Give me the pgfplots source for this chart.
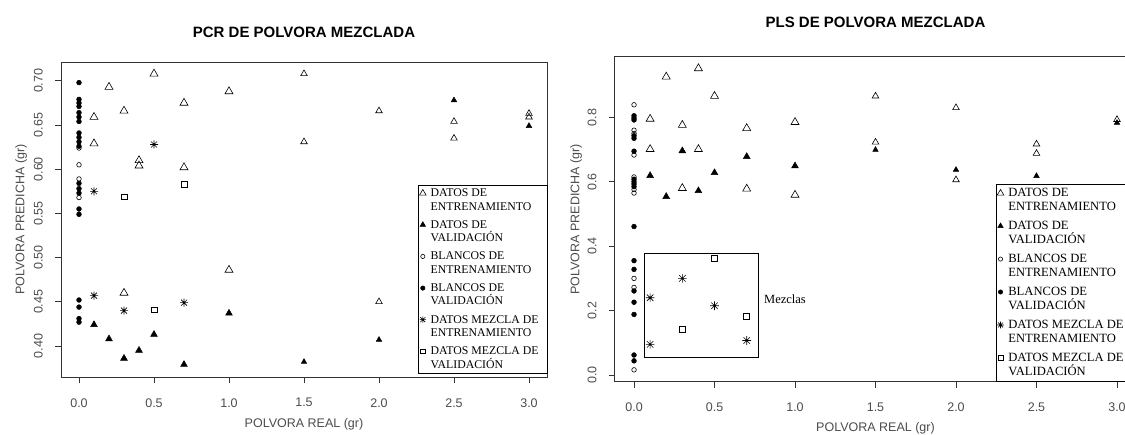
\documentclass[border=0pt]{standalone}
\usepackage{pgfplots}
\pgfplotsset{compat=1.18}
\usepackage{fontspec}
\setmainfont{Liberation Serif}
\newfontfamily\arialf{Liberation Sans}

\pgfdeclareplotmark{rstar}{%
 \pgfpathmoveto{\pgfqpoint{-\pgfplotmarksize}{0pt}}\pgfpathlineto{\pgfqpoint{\pgfplotmarksize}{0pt}}%
 \pgfpathmoveto{\pgfqpoint{0pt}{-\pgfplotmarksize}}\pgfpathlineto{\pgfqpoint{0pt}{\pgfplotmarksize}}%
 \pgfpathmoveto{\pgfqpoint{-0.75\pgfplotmarksize}{-0.75\pgfplotmarksize}}\pgfpathlineto{\pgfqpoint{0.75\pgfplotmarksize}{0.75\pgfplotmarksize}}%
 \pgfpathmoveto{\pgfqpoint{-0.75\pgfplotmarksize}{0.75\pgfplotmarksize}}\pgfpathlineto{\pgfqpoint{0.75\pgfplotmarksize}{-0.75\pgfplotmarksize}}%
 \pgfusepathqstroke}

\pgfplotsset{
 legmy/.initial=16.8pt,
 limg/.style={legend image code/.code={\draw[##1] plot coordinates {(0pt,\pgfkeysvalueof{/pgfplots/legmy})};}},
 tri/.style={only marks, mark=triangle, mark options={draw=black, fill=none, line width=0.6pt}, limg},
 trf/.style={only marks, mark=triangle*, mark options={draw=black, fill=black, line width=0.5pt}, limg},
 cio/.style={only marks, mark=o, mark size=2.3pt, mark options={draw=black, fill=none, line width=0.6pt}, limg, legend image post style={mark size=2.1pt}},
 cif/.style={only marks, mark=*, mark size=2.4pt, mark options={draw=black, fill=black, line width=0.5pt}, limg, legend image post style={mark size=2.2pt}},
 stm/.style={only marks, mark=rstar, mark options={draw=black, line width=0.6pt}, limg},
 sqm/.style={only marks, mark=square, mark size=2.8pt, mark options={draw=black, fill=none, line width=0.6pt}, limg, legend image post style={mark size=2.4pt}},
 common/.style={
  scale only axis, tick align=outside, major tick length=6pt, tick pos=left,
  axis line style={black!80, line width=0.8pt},
  every tick/.style={black!80, line width=0.8pt},
  tick label style={font=\arialf\fontsize{12.5}{14}\selectfont, text=black!70},
  /pgf/number format/assume math mode=true,
  xmin=-0.12, xmax=3.12,
  xtick={0,0.5,1,1.5,2,2.5,3}, xticklabels={0.0,0.5,1.0,1.5,2.0,2.5,3.0},
  xticklabel style={anchor=north, inner sep=0pt},
  yticklabel style={rotate=90, anchor=south, inner sep=0pt},
  xticklabel shift=15pt, yticklabel shift=12pt,
  label style={font=\arialf\fontsize{12.5}{14}\selectfont, text=black!70},
  xlabel={POLVORA REAL (gr)}, ylabel={POLVORA PREDICHA (gr)},
  xlabel style={anchor=base}, ylabel style={anchor=base},
  title style={font=\arialf\bfseries\fontsize{15}{15}\selectfont, anchor=base},
  legend cell align=left,
  legend style={draw=black, line width=0.6pt, fill=white, anchor=north west,
    font=\fontsize{11.8}{13.3}\selectfont, inner xsep=1.2pt, inner ysep=4pt,
    row sep=9.0pt, column sep=4.5pt, cells={anchor=base west},
    nodes={inner sep=0pt, align=left}},
 }
}

\begin{document}
\begin{tikzpicture}[x=1pt,y=1pt]
%================ LEFT: PCR =================
\begin{axis}[common, at={(61pt,57.9pt)}, anchor=south west, width=486pt, height=315pt,
  ymin=0.3648, ymax=0.7212,
  ytick={0.40,0.45,0.50,0.55,0.60,0.65,0.70},
  yticklabels={0.40,0.45,0.50,0.55,0.60,0.65,0.70},
  title={PCR DE POLVORA MEZCLADA},
  title style={at={(axis description cs:0.5,1.060)}},
  xlabel style={at={(axis description cs:0.5,-0.16)}},
  ylabel style={at={(axis description cs:-0.0751,0.5)}},
  legend style={at={(axis description cs:0.7346,0.611)}}]
\addplot[tri, mark size=4.6pt, legend image post style={mark size=3.8pt}] coordinates {
 (0.1,0.659) (0.1,0.629) (0.2,0.693) (0.3,0.666) (0.3,0.460) (0.4,0.610) (0.4,0.604)
 (0.5,0.708) (0.7,0.675) (0.7,0.602) (1.0,0.688) (1.0,0.486)};
\addlegendentry{\makebox[115pt][l]{DATOS DE}\\ENTRENAMIENTO}
\addplot[tri, mark size=3.8pt, forget plot] coordinates {
 (1.5,0.708) (1.5,0.631) (2.0,0.666) (2.0,0.450) (2.5,0.654) (2.5,0.635) (3.0,0.663) (3.0,0.659)};
\addplot[trf, mark size=3.9pt, legend image post style={mark size=3.2pt}] coordinates {
 (0.1,0.424) (0.2,0.408) (0.3,0.386) (0.4,0.395) (0.5,0.413) (0.7,0.379) (1.0,0.437)};
\addlegendentry{DATOS DE\\VALIDACIÓN}
\addplot[trf, mark size=3.2pt, forget plot] coordinates {
 (1.5,0.382) (2.0,0.407) (2.5,0.678) (3.0,0.649)};
\addplot[cio] coordinates {(0,0.624) (0,0.605) (0,0.589) (0,0.568)};
\addlegendentry{BLANCOS DE\\ENTRENAMIENTO}
\addplot[cif] coordinates {
 (0,0.698) (0,0.679) (0,0.675) (0,0.671) (0,0.664) (0,0.659) (0,0.654)
 (0,0.641) (0,0.636) (0,0.631) (0,0.626) (0,0.584) (0,0.578) (0,0.573)
 (0,0.555) (0,0.549) (0,0.452) (0,0.444) (0,0.431) (0,0.427)};
\addlegendentry{BLANCOS DE\\VALIDACIÓN}
\addplot[stm, mark size=4pt, legend image post style={mark size=3.3pt}] coordinates {
 (0.1,0.575) (0.5,0.628) (0.1,0.457) (0.3,0.440) (0.7,0.449)};
\addlegendentry{DATOS MEZCLA DE\\ENTRENAMIENTO}
\addplot[sqm] coordinates {(0.3,0.569) (0.7,0.583) (0.5,0.441)};
\addlegendentry{DATOS MEZCLA DE\\VALIDACIÓN}
\end{axis}
%================ RIGHT: PLS =================
\begin{axis}[common, at={(614.7pt,53.1pt)}, anchor=south west, width=521.6pt, height=325.4pt,
  ymin=-0.0214, ymax=0.989,
  ytick={0,0.2,0.4,0.6,0.8}, yticklabels={0.0,0.2,0.4,0.6,0.8},
  title={PLS DE POLVORA MEZCLADA},
  title style={at={(axis description cs:0.5,1.0706)}},
  xlabel style={at={(axis description cs:0.5,-0.1515)}},
  ylabel style={at={(axis description cs:-0.0675,0.5)}},
  legmy=17.5pt,
  legend style={at={(axis description cs:0.7305,0.608)}, row sep=9.1pt,
    font=\fontsize{12.6}{14}\selectfont}]
\addplot[tri, mark size=4.6pt, legend image post style={mark size=3.8pt}] coordinates {
 (0.1,0.795) (0.1,0.701) (0.2,0.926) (0.3,0.776) (0.3,0.580) (0.4,0.952) (0.4,0.701)
 (0.5,0.866) (0.7,0.766) (0.7,0.578) (1.0,0.785) (1.0,0.559)};
\addlegendentry{\makebox[130pt][l]{DATOS DE}\\ENTRENAMIENTO}
\addplot[tri, mark size=3.8pt, forget plot] coordinates {
 (1.5,0.866) (1.5,0.723) (2.0,0.830) (2.0,0.606) (2.5,0.717) (2.5,0.688) (3.0,0.793)};
\addplot[trf, mark size=3.9pt, legend image post style={mark size=3.2pt}] coordinates {
 (0.1,0.619) (0.2,0.554) (0.3,0.696) (0.4,0.572) (0.5,0.628) (0.7,0.678) (1.0,0.649)};
\addlegendentry{DATOS DE\\VALIDACIÓN}
\addplot[trf, mark size=3.2pt, forget plot] coordinates {
 (1.5,0.699) (2.0,0.637) (2.5,0.618) (3.0,0.783)};
\addplot[cio] coordinates {
 (0,0.839) (0,0.760) (0,0.750) (0,0.683) (0,0.615) (0,0.576) (0,0.565)
 (0,0.300) (0,0.272) (0,0.016)};
\addlegendentry{BLANCOS DE\\ENTRENAMIENTO}
\addplot[cif] coordinates {
 (0,0.805) (0,0.798) (0,0.792) (0,0.743) (0,0.735) (0,0.695) (0,0.608) (0,0.600)
 (0,0.593) (0,0.585) (0,0.461) (0,0.355) (0,0.328) (0,0.261) (0,0.226) (0,0.188)
 (0,0.062) (0,0.044)};
\addlegendentry{BLANCOS DE\\VALIDACIÓN}
\addplot[stm, mark size=4.3pt, legend image post style={mark size=3.3pt}] coordinates {
 (0.1,0.240) (0.1,0.095) (0.3,0.300) (0.5,0.215) (0.7,0.107)};
\addlegendentry{DATOS MEZCLA DE\\ENTRENAMIENTO}
\addplot[sqm, mark size=3pt] coordinates {(0.5,0.361) (0.3,0.142) (0.7,0.181)};
\addlegendentry{DATOS MEZCLA DE\\VALIDACIÓN}
\draw[black, line width=0.7pt] (axis cs:0.064,0.055) rectangle (axis cs:0.775,0.378);
\node[anchor=west, font=\fontsize{12.5}{14}\selectfont, inner sep=0pt] at (axis cs:0.807,0.236) {Mezclas};
\end{axis}
\pgfresetboundingbox
\path[use as bounding box] (0pt,0pt) rectangle (1125pt,435pt);
\end{tikzpicture}
\end{document}
